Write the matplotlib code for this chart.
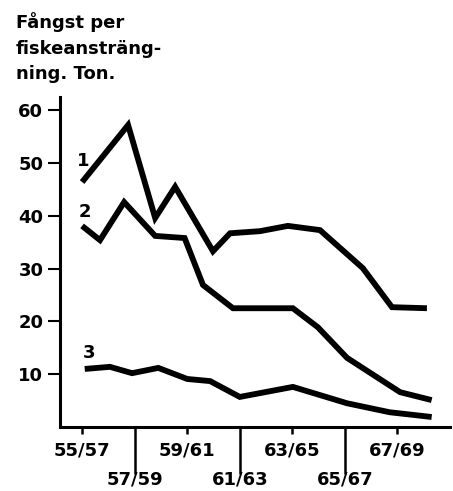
import matplotlib
matplotlib.use('Agg')
import matplotlib.pyplot as plt

# Data (x = middle year of each 2-year period)
years_1 = [56.0, 57.75, 58.78, 59.54, 60.98, 61.63, 62.77, 63.83, 65.05, 66.68, 67.79, 69.12]
catch_1 = [46.4, 57.2, 39.6, 45.5, 33.3, 36.7, 37.1, 38.1, 37.3, 30.1, 22.7, 22.5]

years_2 = [56.0, 56.68, 57.6, 58.78, 59.9, 60.6, 61.74, 64.02, 64.97, 66.08, 68.1, 69.3]
catch_2 = [38.1, 35.4, 42.6, 36.2, 35.8, 26.9, 22.5, 22.5, 18.9, 13.1, 6.6, 5.1]

years_3 = [56.1, 57.06, 57.9, 58.9, 60.0, 60.87, 62.0, 64.02, 66.08, 67.7, 69.3]
catch_3 = [11.0, 11.4, 10.2, 11.2, 9.1, 8.7, 5.7, 7.6, 4.5, 2.8, 1.9]

upper_ticks = [56, 60, 64, 68]
upper_labels = ['55/57', '59/61', '63/65', '67/69']
lower_ticks = [58, 62, 66]
lower_labels = ['57/59', '61/63', '65/67']
y_ticks = [10, 20, 30, 40, 50, 60]

title_lines = ['Fångst per', 'fiskeansträng-', 'ning. Ton.']

# Plotting
plt.rcParams['font.family'] = ['DejaVu Sans']
plt.rcParams['font.weight'] = 'bold'
fs = 13
fig = plt.figure(figsize=(4.53, 4.91), dpi=100)
ax = fig.add_axes([0.1325, 0.1303, 0.861, 0.672])

for xs, ys in [(years_1, catch_1), (years_2, catch_2), (years_3, catch_3)]:
    ax.plot(xs, ys, color='black', lw=4.2, solid_joinstyle='miter', solid_capstyle='butt')

ax.text(56.04, 50.3, '1', fontsize=fs, ha='center', va='center')
ax.text(56.1, 40.7, '2', fontsize=fs, ha='center', va='center')
ax.text(56.27, 14.0, '3', fontsize=fs, ha='center', va='center')

ax.set_xlim(55.16, 70)
ax.set_ylim(0, 62.5)

for side in ['top', 'right']:
    ax.spines[side].set_visible(False)
for side in ['left', 'bottom']:
    ax.spines[side].set_linewidth(2.2)

ax.set_yticks(y_ticks)
ax.tick_params(axis='y', length=9, width=1.5, pad=3, labelsize=fs)

ax.set_xticks(upper_ticks)
ax.set_xticklabels(upper_labels)
ax.set_xticks(lower_ticks, minor=True)
ax.set_xticklabels(lower_labels, minor=True)
ax.tick_params(axis='x', which='major', length=5, width=1.8, pad=5.5, labelsize=fs)
ax.tick_params(axis='x', which='minor', length=34, width=1.8, pad=-3, labelsize=fs)

for i, line in enumerate(title_lines):
    fig.text(16 / 453, 1 - (28 + 25.5 * i) / 491, line, fontsize=fs, va='baseline', ha='left')

fig.savefig('out.png', dpi=100)
